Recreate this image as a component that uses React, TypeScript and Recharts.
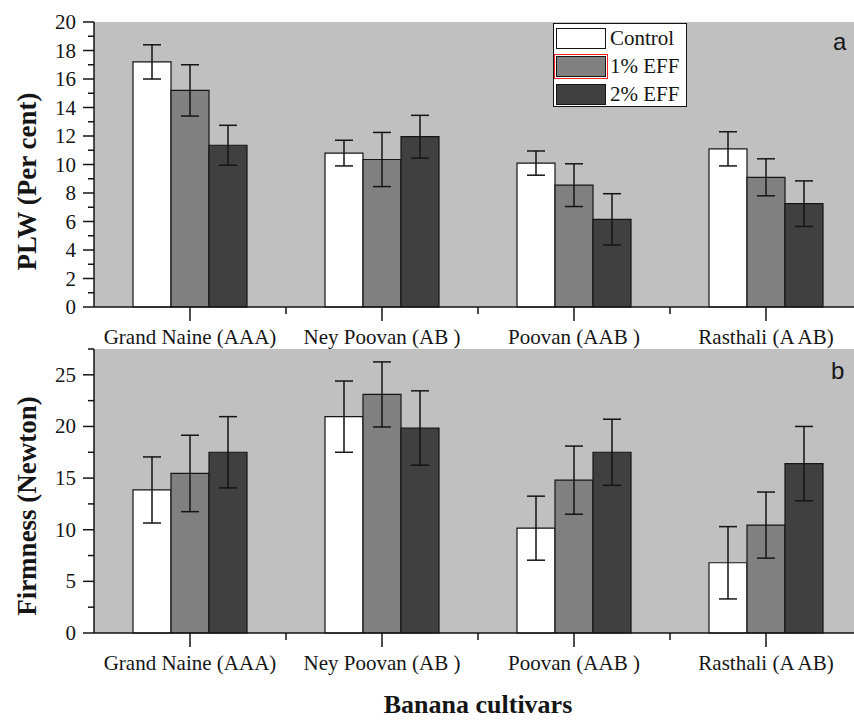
import { Bar, BarChart, CartesianGrid, ErrorBar, Label, XAxis, YAxis } from 'recharts';

const cultivars = ['Grand Naine (AAA)', 'Ney Poovan (AB )', 'Poovan (AAB )', 'Rasthali (A AB)'];
const treatments = ['Control', '1% EFF', '2% EFF'];

// PLW (per cent)
const plwControl = [17.2, 10.8, 10.1, 11.1];
const plwControlErr = [1.2, 0.9, 0.85, 1.2];
const plw1 = [15.2, 10.35, 8.55, 9.1];
const plw1Err = [1.8, 1.9, 1.5, 1.3];
const plw2 = [11.35, 11.95, 6.15, 7.25];
const plw2Err = [1.4, 1.5, 1.8, 1.6];

// Firmness (Newton)
const firmControl = [13.85, 20.95, 10.15, 6.8];
const firmControlErr = [3.2, 3.45, 3.1, 3.5];
const firm1 = [15.45, 23.1, 14.8, 10.45];
const firm1Err = [3.7, 3.15, 3.3, 3.2];
const firm2 = [17.5, 19.85, 17.5, 16.4];
const firm2Err = [3.45, 3.6, 3.2, 3.6];

const plwTicks = [0, 1, 2, 3, 4, 5, 6, 7, 8, 9, 10, 11, 12, 13, 14, 15, 16, 17, 18, 19, 20];
const firmTicks = [0, 2.5, 5, 7.5, 10, 12.5, 15, 17.5, 20, 22.5, 25, 27.5];

const plwData = cultivars.map((name, i) => ({
  name,
  c: plwControl[i], ce: plwControlErr[i],
  t1: plw1[i], t1e: plw1Err[i],
  t2: plw2[i], t2e: plw2Err[i],
}));
const firmData = cultivars.map((name, i) => ({
  name,
  c: firmControl[i], ce: firmControlErr[i],
  t1: firm1[i], t1e: firm1Err[i],
  t2: firm2[i], t2e: firm2Err[i],
}));

const SERIF = '"Liberation Serif", "DejaVu Serif", serif';
const INK = '#151515';
const FILLS = ['#ffffff', '#808080', '#404040'];
const CHART_W = 900;
const PLOT_L = 94;
const PLOT_R = 862;
const HALF_BAND = (PLOT_R - PLOT_L) / cultivars.length / 2;

function CatTick(props: any) {
  const { x, y, payload } = props;
  return (
    <g>
      <line x1={x} y1={y} x2={x} y2={y + 14} stroke={INK} strokeWidth={1.5} />
      <line x1={x + HALF_BAND} y1={y} x2={x + HALF_BAND} y2={y + 7} stroke={INK} strokeWidth={1.5} />
      <text x={x} y={y + 30} textAnchor="middle" dominantBaseline="central" fontFamily={SERIF} fontSize={21} fill={INK}>
        {payload.value}
      </text>
    </g>
  );
}

function ValTick(props: any) {
  const { x, y, payload, step } = props;
  const major = Math.abs(payload.value / step - Math.round(payload.value / step)) < 1e-6;
  return (
    <g>
      <line x1={x - (major ? 11 : 6)} y1={y} x2={x} y2={y} stroke={INK} strokeWidth={1.5} />
      {major && (
        <text x={x - 18} y={y} textAnchor="end" dominantBaseline="central" fontFamily={SERIF} fontSize={21} fill={INK}>
          {payload.value}
        </text>
      )}
    </g>
  );
}

function yTitle(text: string, dy: number) {
  return ({ viewBox }: any) => {
    const cx = viewBox.x + 27;
    const cy = viewBox.y + viewBox.height / 2 + dy;
    return (
      <text x={cx} y={cy} transform={`rotate(-90 ${cx} ${cy})`} textAnchor="middle" dominantBaseline="central"
        fontFamily={SERIF} fontWeight="bold" fontSize={27} fill={INK}>
        {text}
      </text>
    );
  };
}

function Bars() {
  const keys = [['c', 'ce'], ['t1', 't1e'], ['t2', 't2e']];
  return keys.map(([k, e], i) => (
    <Bar key={k} dataKey={k} name={treatments[i]} fill={FILLS[i]} stroke={INK} strokeWidth={1.2} isAnimationActive={false}>
      <ErrorBar dataKey={e} width={9} stroke={INK} strokeWidth={1.5} isAnimationActive={false} />
    </Bar>
  ));
}

function LegendBox() {
  return (
    <div style={{ position: 'absolute', left: 553, top: 23, width: 132, height: 82, background: '#fff', border: `1.5px solid ${INK}` }}>
      {treatments.map((t, i) => (
        <div key={t} style={{ position: 'absolute', left: 2, top: 3 + i * 28, height: 22, display: 'flex', alignItems: 'center' }}>
          <div style={{
            width: 48, height: 19, background: FILLS[i], border: `1.5px solid ${INK}`,
            outline: i === 1 ? '1.5px solid #ff2020' : 'none', outlineOffset: 1,
          }} />
          <span style={{ marginLeft: 4, fontFamily: SERIF, fontSize: 21, color: INK, lineHeight: '22px' }}>{t}</span>
        </div>
      ))}
    </div>
  );
}

export default function App() {
  return (
    <div style={{ position: 'absolute', left: 0, top: 0, width: 854, height: 720, overflow: 'hidden', background: '#fff' }}>
      <div style={{ position: 'absolute', left: 0, top: 0 }}>
        <BarChart width={CHART_W} height={360} data={plwData} barSize={38} barGap={0}
          margin={{ top: 22, right: CHART_W - PLOT_R, bottom: 0, left: 0 }}>
          <CartesianGrid fill="#c0c0c0" stroke="none" horizontal={false} vertical={false} />
          <XAxis dataKey="name" height={53} tickSize={0} tickMargin={0} tickLine={false} interval={0}
            axisLine={{ stroke: INK, strokeWidth: 1.5 }} tick={<CatTick />} />
          <YAxis width={PLOT_L} domain={[0, 20]} ticks={plwTicks} interval={0} tickSize={0} tickMargin={0} tickLine={false}
            axisLine={{ stroke: INK, strokeWidth: 1.5 }} tick={(p: any) => <ValTick {...p} step={2} />}>
            <Label content={yTitle('PLW (Per cent)', 17)} />
          </YAxis>
          {Bars()}
        </BarChart>
      </div>
      <div style={{ position: 'absolute', left: 0, top: 340 }}>
        <BarChart width={CHART_W} height={380} data={firmData} barSize={38} barGap={0}
          margin={{ top: 9, right: CHART_W - PLOT_R, bottom: 0, left: 0 }}>
          <CartesianGrid fill="#c0c0c0" stroke="none" horizontal={false} vertical={false} />
          <XAxis dataKey="name" height={87} tickSize={0} tickMargin={0} tickLine={false} interval={0}
            axisLine={{ stroke: INK, strokeWidth: 1.5 }} tick={<CatTick />}>
            <Label content={({ viewBox }: any) => (
              <text x={viewBox.x + viewBox.width / 2} y={viewBox.y + 71} textAnchor="middle" dominantBaseline="central"
                fontFamily={SERIF} fontWeight="bold" fontSize={26} fill={INK}>
                Banana cultivars
              </text>
            )} />
          </XAxis>
          <YAxis width={PLOT_L} domain={[0, 27.5]} ticks={firmTicks} interval={0} tickSize={0} tickMargin={0} tickLine={false}
            axisLine={{ stroke: INK, strokeWidth: 1.5 }} tick={(p: any) => <ValTick {...p} step={5} />}>
            <Label content={yTitle('Firmness (Newton)', 15)} />
          </YAxis>
          {Bars()}
        </BarChart>
      </div>
      <LegendBox />
      <div style={{ position: 'absolute', left: 833, top: 28, fontFamily: '"Liberation Sans", Arial, sans-serif', fontSize: 24, color: INK, lineHeight: '28px' }}>a</div>
      <div style={{ position: 'absolute', left: 831, top: 357, fontFamily: '"Liberation Sans", Arial, sans-serif', fontSize: 24, color: INK, lineHeight: '28px' }}>b</div>
    </div>
  );
}
